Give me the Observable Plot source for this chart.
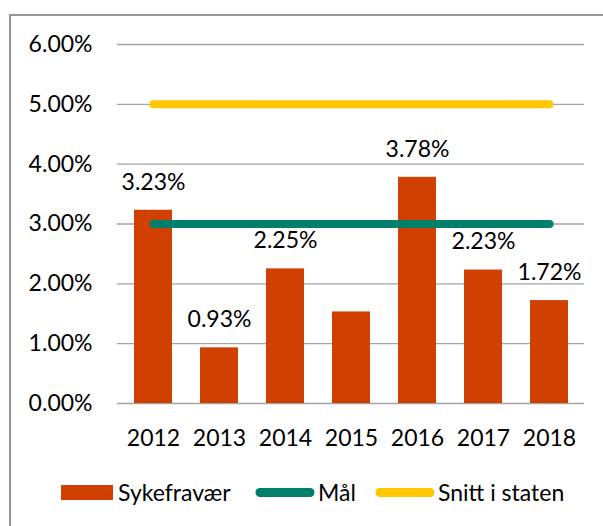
<!DOCTYPE html>
<html>
<head>
<meta charset="utf-8">
<script src="https://cdn.jsdelivr.net/npm/d3@7"></script>
<script src="https://cdn.jsdelivr.net/npm/@observablehq/plot@0.6"></script>
<style>
  html, body { margin: 0; padding: 0; background: #fff; }
  #wrap { position: relative; width: 603px; height: 526px; overflow: hidden; font-family: Lato, "Open Sans", sans-serif; }
  #frame { position: absolute; left: 9px; top: 14px; width: 700px; height: 700px; border-left: 2px solid #959595; border-top: 2px solid #959595; box-sizing: border-box; }
  #chart { position: absolute; left: 0; top: 0; }
  .leg { position: absolute; top: 475px; height: 34px; display: flex; align-items: center; font-size: 23px; color: #000; white-space: nowrap; }
  .leg svg { display: block; margin-right: 3px; }
</style>
</head>
<body>
<div id="wrap">
  <div id="frame"></div>
  <div id="chart"></div>
  <div id="legend"></div>
</div>
<script>
const years = ["2012", "2013", "2014", "2015", "2016", "2017", "2018"];
const sykefravaer = [3.23, 0.93, 2.25, 1.53, 3.78, 2.23, 1.72];
const maal = [3, 3, 3, 3, 3, 3, 3];
const snittStaten = [5, 5, 5, 5, 5, 5, 5];
const barLabels = ["3.23%", "0.93%", "2.25%", "", "3.78%", "2.23%", "1.72%"];
const yTicks = [0, 1, 2, 3, 4, 5, 6];
const seriesNames = ["Sykefravær", "Mål", "Snitt i staten"];
const colors = {bar: "#d04000", goal: "#007f6a", state: "#ffc800", grid: "#a3a3a3"};

const rows = years.map((y, i) => ({year: y, value: sykefravaer[i], goal: maal[i], state: snittStaten[i], label: barLabels[i]}));

const chart = Plot.plot({
  width: 603,
  height: 460,
  marginLeft: 117,
  marginRight: 19,
  marginTop: 44,
  marginBottom: 57,
  style: {fontFamily: "Lato, 'Open Sans', sans-serif", fontSize: "23px", color: "#000", background: "transparent"},
  x: {domain: years, paddingInner: 0.43, paddingOuter: 0.215, label: null},
  y: {domain: [0, 6], label: null},
  marks: [
    Plot.ruleY(yTicks, {y: d => d, stroke: colors.grid, strokeWidth: 1.4}),
    Plot.barY(rows, {x: "year", y: "value", fill: colors.bar}),
    Plot.line(rows, {x: "year", y: "goal", stroke: colors.goal, strokeWidth: 8, strokeLinecap: "round"}),
    Plot.line(rows, {x: "year", y: "state", stroke: colors.state, strokeWidth: 8, strokeLinecap: "round"}),
    Plot.text(rows.filter(d => d.label), {x: "year", y: "value", text: "label", dy: -28, lineAnchor: "middle", fontSize: 23, fill: "#000"}),
    Plot.axisY({ticks: yTicks, tickFormat: d => d.toFixed(2) + "%", tickSize: 0, tickPadding: 25, label: null, fontSize: 23}),
    Plot.axisX({tickSize: 0, tickPadding: 26, label: null, fontSize: 23})
  ]
});
document.getElementById("chart").appendChild(chart);

// legend
const legend = document.getElementById("legend");
const legItems = [
  {name: seriesNames[0], kind: "rect", color: colors.bar, left: 61},
  {name: seriesNames[1], kind: "line", color: colors.goal, left: 255},
  {name: seriesNames[2], kind: "line", color: colors.state, left: 375}
];
for (const it of legItems) {
  const div = document.createElement("div");
  div.className = "leg";
  div.style.left = it.left + "px";
  const sw = it.kind === "rect"
    ? `<svg width="54" height="34"><rect x="0" y="10" width="52" height="15" fill="${it.color}"/></svg>`
    : `<svg width="60" height="34"><line x1="5" y1="17.5" x2="55" y2="17.5" stroke="${it.color}" stroke-width="9" stroke-linecap="round"/></svg>`;
  div.innerHTML = sw + `<span>${it.name}</span>`;
  legend.appendChild(div);
}
</script>
</body>
</html>
